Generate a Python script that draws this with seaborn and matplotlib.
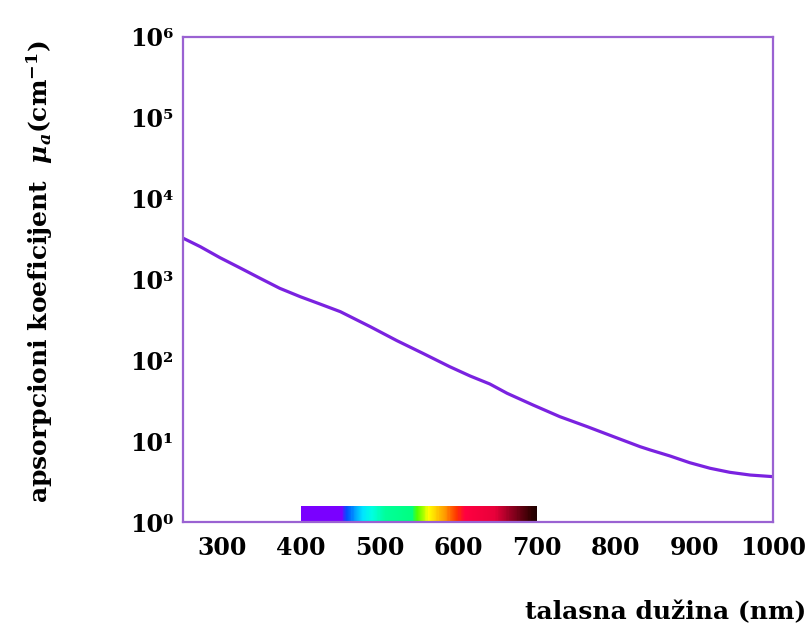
import numpy as np
import pandas as pd
import matplotlib
matplotlib.use("Agg")
import matplotlib.pyplot as plt
import seaborn as sns
from matplotlib.colors import LinearSegmentedColormap

# ---- data ----
wavelength_nm = [250, 272, 297, 322, 348, 373, 399, 424, 450, 488, 522, 555,
                 589, 615, 640, 662, 695, 729, 764, 797, 831, 844, 869, 894,
                 920, 945, 971, 1000]
mu_a = [3250, 2547, 1862, 1400, 1035, 778, 613, 498, 400, 261, 175, 122,
        83.5, 64, 51, 39.1, 28, 20.1, 15.1, 11.4, 8.55, 7.78, 6.56, 5.42,
        4.62, 4.12, 3.81, 3.64]

x_ticks = [300, 400, 500, 600, 700, 800, 900, 1000]
x_ticklabels = ["300", "400", "500", "600", "700", "800", "900", "1000"]
y_ticks = [1, 10, 100, 1e3, 1e4, 1e5, 1e6]
y_ticklabels = ["10⁰", "10¹", "10²", "10³", "10⁴", "10⁵", "10⁶"]

spectrum_nm = [400, 451, 458, 478, 490, 507, 541, 548, 562, 583, 598, 609, 647, 668, 693, 700]
spectrum_colors = ["#7a00ff", "#7a00ff", "#0050ff", "#00e5ff", "#00ffe0", "#00ff9a",
                   "#00ff80", "#50ff00", "#ffff00", "#ff9900", "#ff3300", "#ff0040",
                   "#e8003a", "#900020", "#300000", "#200000"]

x_label = "talasna dužina (nm)"
y_label = r"apsorpcioni koeficijent  $\mu_a$(cm$^{-1}$)"

# ---- styling ----
sns.set_style("white")
plt.rcParams["font.family"] = ["DejaVu Serif"]
plt.rcParams["font.weight"] = "bold"
plt.rcParams["text.color"] = "black"
plt.rcParams["xtick.labelcolor"] = "black"
plt.rcParams["ytick.labelcolor"] = "black"
plt.rcParams["mathtext.fontset"] = "custom"
plt.rcParams["mathtext.rm"] = "DejaVu Serif:bold"
plt.rcParams["mathtext.it"] = "DejaVu Serif:italic:bold"
plt.rcParams["mathtext.bf"] = "DejaVu Serif:bold"

line_color = "#7a22e0"
spine_color = "#9a62d2"

fig = plt.figure(figsize=(8.1, 6.37), dpi=100)
ax = fig.add_axes([183 / 810, 1 - 522 / 637, 590 / 810, 485 / 637])

df = pd.DataFrame({"wl": wavelength_nm, "mu": mu_a})
sns.lineplot(data=df, x="wl", y="mu", ax=ax, color=line_color, linewidth=2.3,
             sort=False, estimator=None)

ax.set_yscale("log")
ax.set_xlim(250, 1000)
ax.set_ylim(1, 1e6)

# visible spectrum bar
cmap = LinearSegmentedColormap.from_list(
    "spec", [((w - spectrum_nm[0]) / (spectrum_nm[-1] - spectrum_nm[0]), c)
             for w, c in zip(spectrum_nm, spectrum_colors)])
xs = np.linspace(spectrum_nm[0], spectrum_nm[-1], 301)
xc = 0.5 * (xs[:-1] + xs[1:])
ax.pcolormesh(xs, [1, 1.58], xc[np.newaxis, :], cmap=cmap,
              vmin=spectrum_nm[0], vmax=spectrum_nm[-1], shading="flat", zorder=1)

ax.set_xticks(x_ticks)
ax.set_xticklabels(x_ticklabels)
ax.set_yticks(y_ticks)
ax.set_yticklabels(y_ticklabels)
ax.minorticks_off()
ax.tick_params(axis="both", direction="in", length=8, width=1.3, color=spine_color,
               labelsize=17, pad=7, labelcolor="black")
ax.tick_params(axis="x", pad=10)
for lbl in ax.get_xticklabels() + ax.get_yticklabels():
    lbl.set_fontweight("bold")
    lbl.set_color("black")

for s in ax.spines.values():
    s.set_color(spine_color)
    s.set_linewidth(1.6)
    s.set_visible(True)

ax.set_xlabel("")
ax.set_ylabel("")
fig.text(806 / 810, 1 - 612 / 637, x_label, ha="right", va="center",
         fontsize=18, fontweight="bold", color="black")
fig.text(40 / 810, 1 - 272 / 637, y_label, ha="center", va="center",
         rotation=90, fontsize=18, fontweight="bold", color="black")

fig.savefig("out.png", dpi=100, facecolor="white")
